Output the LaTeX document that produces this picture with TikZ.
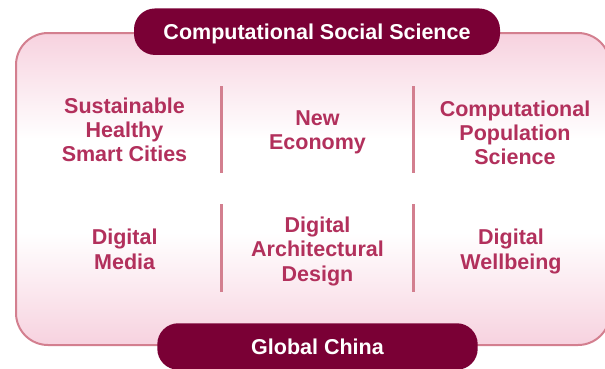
\documentclass[tikz,border=0pt]{standalone}
\usepackage{fontspec}
\setmainfont{Liberation Sans}
\definecolor{pilldark}{HTML}{7A0035}
\definecolor{labelred}{HTML}{B2305C}
\definecolor{framepink}{HTML}{D37F8F}
\definecolor{shadepink}{HTML}{F7D2DF}
\pgfdeclareverticalshading{panelshade}{100bp}{color(0bp)=(shadepink); color(25bp)=(shadepink); color(43bp)=(white); color(58bp)=(white); color(75bp)=(shadepink); color(100bp)=(shadepink)}
\begin{document}
\begin{tikzpicture}[x=1pt,y=-1pt,
  pill/.style={fill=pilldark, text=white, rounded corners=21pt, minimum height=46.5pt,
    inner sep=0pt, text height=15.4pt, text depth=0pt,
    font=\fontsize{21.5}{24.3}\selectfont\bfseries},
  topic/.style={text=labelred, align=center, inner sep=0pt,
    font=\fontsize{21.5}{24.3}\selectfont\bfseries},
  divider/.style={draw=framepink, line width=2.5pt},
  panel/.style={draw=framepink, line width=2pt, rounded corners=32pt, shading=panelshade}]
\useasboundingbox (0,0) rectangle (605,368);
\clip (0,0) rectangle (605,368);
\shadedraw[panel] (16,33) rectangle (610,345);
\draw[divider] (221.3,86) -- (221.3,173);
\draw[divider] (413.3,86) -- (413.3,173);
\draw[divider] (221.3,204) -- (221.3,292.3);
\draw[divider] (413.3,204) -- (413.3,292.3);
\node[pill, minimum width=366pt] (css) at (317,31.7) {Computational Social Science};
\node[pill, minimum width=320.4pt] (china) at (317.5,346.5) {Global China};
\node[topic] (cities) at (124.5,129.8) {Sustainable\\Healthy\\Smart Cities};
\node[topic] (economy) at (317.5,132.3) {New\\Economy};
\node[topic] (population) at (515,133) {Computational\\Population\\Science};
\node[topic] (media) at (124.7,249.2) {Digital\\Media};
\node[topic] (architecture) at (317.5,251.2) {Digital\\Architectural\\Design};
\node[topic] (wellbeing) at (511,251.4) {Digital\\Wellbeing};
\end{tikzpicture}
\end{document}
